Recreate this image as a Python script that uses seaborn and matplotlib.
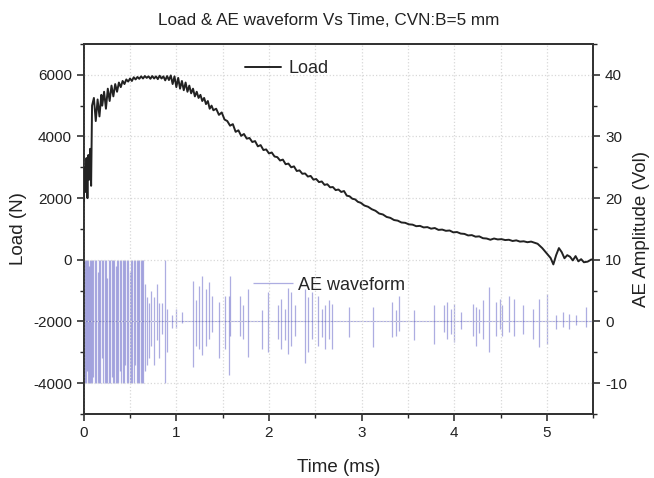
import matplotlib
matplotlib.use("Agg")
import matplotlib.pyplot as plt
import pandas as pd
import seaborn as sns
from matplotlib.ticker import MultipleLocator

# Load curve: (time ms, load N)
load_points = [
    (0.00, 1900), (0.01, 3000), (0.02, 2200), (0.03, 3300), (0.04, 2000),
    (0.05, 3400), (0.06, 2600), (0.07, 3600), (0.08, 2400), (0.09, 5000),
    (0.11, 5250), (0.13, 4500), (0.15, 5200), (0.17, 4650), (0.19, 5350),
    (0.20, 5000), (0.22, 5450), (0.24, 4900), (0.26, 5550), (0.28, 5150),
    (0.30, 5650), (0.32, 5300), (0.34, 5700), (0.36, 5450), (0.38, 5750),
    (0.40, 5600), (0.42, 5800), (0.44, 5700), (0.46, 5850), (0.48, 5780),
    (0.50, 5880), (0.52, 5800), (0.54, 5920), (0.56, 5850), (0.58, 5930),
    (0.60, 5870), (0.62, 5950), (0.64, 5880), (0.66, 5960), (0.68, 5900),
    (0.70, 5950), (0.72, 5870), (0.74, 5960), (0.76, 5880), (0.78, 5950),
    (0.80, 5860), (0.82, 5970), (0.84, 5880), (0.86, 5950), (0.88, 5820),
    (0.90, 5960), (0.92, 5830), (0.94, 5980), (0.96, 5700), (0.98, 5950),
    (1.00, 5600), (1.02, 5900), (1.04, 5550), (1.06, 5800), (1.08, 5500),
    (1.10, 5750), (1.12, 5450), (1.14, 5650), (1.16, 5400), (1.18, 5550),
    (1.20, 5300), (1.22, 5450), (1.24, 5250), (1.26, 5350), (1.28, 5150),
    (1.30, 5250), (1.32, 5050), (1.34, 5150), (1.36, 4900), (1.38, 5000),
    (1.40, 4850), (1.43, 4900), (1.46, 4700), (1.49, 4780), (1.52, 4550),
    (1.55, 4500), (1.58, 4350), (1.61, 4400), (1.64, 4150), (1.67, 4200),
    (1.70, 4020), (1.73, 4080), (1.76, 3930), (1.79, 3950), (1.82, 3820),
    (1.85, 3850), (1.88, 3680), (1.91, 3720), (1.94, 3560), (1.97, 3580),
    (2.00, 3450), (2.03, 3480), (2.06, 3350), (2.09, 3330), (2.12, 3220),
    (2.15, 3250), (2.18, 3100), (2.21, 3120), (2.24, 3000), (2.27, 3030),
    (2.30, 2880), (2.33, 2900), (2.36, 2790), (2.39, 2800), (2.42, 2700),
    (2.45, 2720), (2.48, 2600), (2.51, 2620), (2.54, 2520), (2.57, 2540),
    (2.60, 2430), (2.63, 2450), (2.66, 2350), (2.69, 2360), (2.72, 2260),
    (2.75, 2280), (2.78, 2200), (2.81, 2230), (2.84, 2080), (2.87, 2060),
    (2.90, 1980), (2.93, 1960), (2.96, 1880), (2.99, 1850), (3.03, 1760),
    (3.07, 1720), (3.11, 1640), (3.15, 1590), (3.19, 1500), (3.23, 1470),
    (3.27, 1390), (3.31, 1360), (3.35, 1290), (3.39, 1270), (3.43, 1210),
    (3.47, 1200), (3.51, 1150), (3.55, 1140), (3.59, 1090), (3.63, 1100),
    (3.67, 1050), (3.71, 1060), (3.75, 1010), (3.79, 1030), (3.83, 970),
    (3.87, 980), (3.91, 940), (3.95, 950), (3.99, 890), (4.03, 900),
    (4.07, 850), (4.11, 840), (4.15, 790), (4.19, 800), (4.23, 750),
    (4.27, 760), (4.31, 700), (4.35, 690), (4.39, 650), (4.43, 690),
    (4.47, 660), (4.51, 670), (4.55, 640), (4.59, 650), (4.63, 610),
    (4.67, 630), (4.71, 590), (4.75, 600), (4.79, 570), (4.83, 590),
    (4.87, 550), (4.90, 520), (4.95, 380), (5.00, 200), (5.04, 60),
    (5.07, -150), (5.10, 150), (5.13, 380), (5.16, 250), (5.19, 50),
    (5.22, 150), (5.25, 100), (5.28, -20), (5.31, 120), (5.34, -50),
    (5.37, 20), (5.40, -80), (5.44, -60), (5.48, 10), (5.50, 0),
]

# AE bursts: (time ms, peak Vol, trough Vol), clipped at +/-10
ae_bursts = [
    (0.005, 10, -10), (0.015, 10, -10), (0.025, 10, -10), (0.035, 10, -8),
    (0.045, 10, -10), (0.055, 9, -10), (0.065, 10, -10), (0.075, 10, -10),
    (0.09, 10, -10), (0.105, 10, -9), (0.12, 10, -10), (0.135, 10, -10),
    (0.15, 8, -10), (0.165, 10, -10), (0.18, 10, -10), (0.195, 10, -6),
    (0.21, 10, -10), (0.225, 10, -10), (0.24, 10, -10), (0.255, 7, -10),
    (0.27, 10, -10), (0.285, 10, -10), (0.30, 10, -9), (0.315, 10, -10),
    (0.33, 10, -10), (0.345, 9, -10), (0.36, 10, -10), (0.375, 10, -10),
    (0.39, 10, -8), (0.405, 10, -10), (0.42, 10, -10), (0.435, 10, -10),
    (0.45, 10, -7), (0.465, 10, -10), (0.48, 10, -10), (0.495, 8, -10),
    (0.51, 10, -10), (0.525, 10, -10), (0.54, 10, -10), (0.555, 10, -7),
    (0.57, 10, -10), (0.585, 10, -10), (0.60, 10, -10), (0.615, 10, -10),
    (0.63, 10, -10), (0.645, 10, -10), (0.66, 6, -8), (0.68, 4, -7),
    (0.70, 3, -6), (0.73, 5, -4), (0.76, 4, -7), (0.79, 6, -3),
    (0.81, 3, -6), (0.84, 3, -2), (0.88, 10, -10), (0.90, 2, -5),
    (0.95, 1, -1), (1.00, 2, -1), (1.06, 1.5, -0.3), (1.18, 6.6, -7.4),
    (1.21, 3.5, -4.0), (1.25, 5.8, -4.4), (1.28, 7.4, -5.5), (1.32, 5.3, -3.9),
    (1.35, 6.4, -2.8), (1.39, 4.2, -1.7), (1.46, 3.1, -6.0), (1.53, 4.2, -4.4),
    (1.57, 4.2, -8.7), (1.58, 7.4, -2.3), (1.69, 4.2, -2.3), (1.72, 2.6, -2.8),
    (1.77, 5.3, -5.8), (1.92, 1.8, -4.4), (1.99, 4.8, -5.0), (2.10, 2.6, -2.8),
    (2.13, 3.7, -4.4), (2.17, 2.0, -3.0), (2.21, 5.5, -5.2), (2.24, 4.7, -3.9),
    (2.28, 2.6, -2.3), (2.39, 5.3, -6.8), (2.42, 3.9, -5.0), (2.46, 4.7, -2.8),
    (2.53, 4.2, -3.9), (2.57, 2.0, -2.5), (2.61, 2.6, -4.4), (2.65, 3.4, -2.8),
    (2.68, 2.9, -4.4), (2.86, 2.3, -2.5), (3.12, 2.3, -4.2), (3.33, 3.1, -2.5),
    (3.37, 1.8, -2.3), (3.40, 4.2, -1.5), (3.57, 1.8, -3.0), (3.78, 2.6, -3.6),
    (3.89, 2.6, -1.7), (3.92, 3.1, -2.8), (3.96, 2.0, -2.0), (4.00, 2.9, -3.3),
    (4.07, 1.5, -1.2), (4.20, 2.9, -2.3), (4.23, 2.3, -3.9), (4.27, 2.0, -1.8),
    (4.31, 3.4, -2.8), (4.38, 5.6, -5.0), (4.45, 3.1, -2.3), (4.49, 3.7, -1.2),
    (4.52, 2.6, -2.3), (4.59, 4.2, -1.7), (4.65, 3.7, -2.3), (4.74, 2.6, -2.0),
    (4.85, 2.0, -2.8), (4.92, 3.7, -4.2), (5.00, 4.5, -3.6), (5.10, 1.0, -1.2),
    (5.17, 1.5, -0.9), (5.24, 1.2, -1.2), (5.31, 1.0, -0.6), (5.42, 2.3, -0.9),
]

load_df = pd.DataFrame(load_points, columns=["Time (ms)", "Load (N)"])
ae_df = pd.DataFrame(ae_bursts, columns=["time", "peak", "trough"])

sns.set_theme(style="ticks")
plt.rcParams["font.family"] = ["Liberation Sans", "DejaVu Sans"]
plt.rcParams["axes.unicode_minus"] = False

fig = plt.figure(figsize=(6.54, 4.78), dpi=100)
ax = fig.add_axes([0.128, 0.134, 0.779, 0.774])
ax2 = ax.twinx()

# AE waveform on the right axis
ae_color = "#5c5cc4"
ax2.plot([0, 5.5], [0, 0], color=ae_color, lw=0.8, alpha=0.5)
ax2.vlines(ae_df["time"], ae_df["trough"], ae_df["peak"], color=ae_color,
           lw=0.9, alpha=0.5, label="AE waveform")

# Load on the left axis
sns.lineplot(data=load_df, x="Time (ms)", y="Load (N)", ax=ax,
             color="#222222", lw=1.4, label="Load", zorder=5)
ax.set_zorder(ax2.get_zorder() + 1)
ax.patch.set_visible(False)

ax.set_xlim(0, 5.5)
ax.set_ylim(-5000, 7000)
ax2.set_ylim(-15, 45)

ax.xaxis.set_major_locator(MultipleLocator(1))
ax.xaxis.set_minor_locator(MultipleLocator(0.5))
ax.yaxis.set_minor_locator(MultipleLocator(1000))
ax2.yaxis.set_minor_locator(MultipleLocator(5))
ax.set_yticks([-4000, -2000, 0, 2000, 4000, 6000])
ax2.set_yticks([-10, 0, 10, 20, 30, 40])

ax.grid(True, which="both", axis="x", color="#d8d8d8", ls=":", lw=0.9)
ax.grid(True, which="major", axis="y", color="#d8d8d8", ls=":", lw=0.9)

for a in (ax, ax2):
    for s in a.spines.values():
        s.set_visible(True)
        s.set_color("#333333")
        s.set_linewidth(1.3)
    a.tick_params(which="major", length=5, width=1.1, labelsize=11,
                  colors="#222222", direction="out")
    a.tick_params(which="minor", length=3, width=1.0, direction="out")

ax.set_xlabel("Time (ms)", fontsize=13.5, color="#222222", labelpad=14)
ax.set_ylabel("Load (N)", fontsize=13.5, color="#222222", labelpad=4)
ax2.set_ylabel("AE Amplitude (Vol)", fontsize=13.5, color="#222222",
               rotation=90, labelpad=4)

ax.legend(loc="upper left", bbox_to_anchor=(0.285, 1.0), frameon=False,
          fontsize=13, handlelength=2.0, handletextpad=0.4)
ax2.legend(loc="upper left", bbox_to_anchor=(0.30, 0.415), frameon=False,
           fontsize=13, handlelength=2.2, handletextpad=0.3)

fig.text(0.502, 0.958, "Load & AE waveform Vs Time, CVN:B=5 mm",
         ha="center", va="center", fontsize=12.3, color="#222222")

fig.savefig("out.png", dpi=100)
